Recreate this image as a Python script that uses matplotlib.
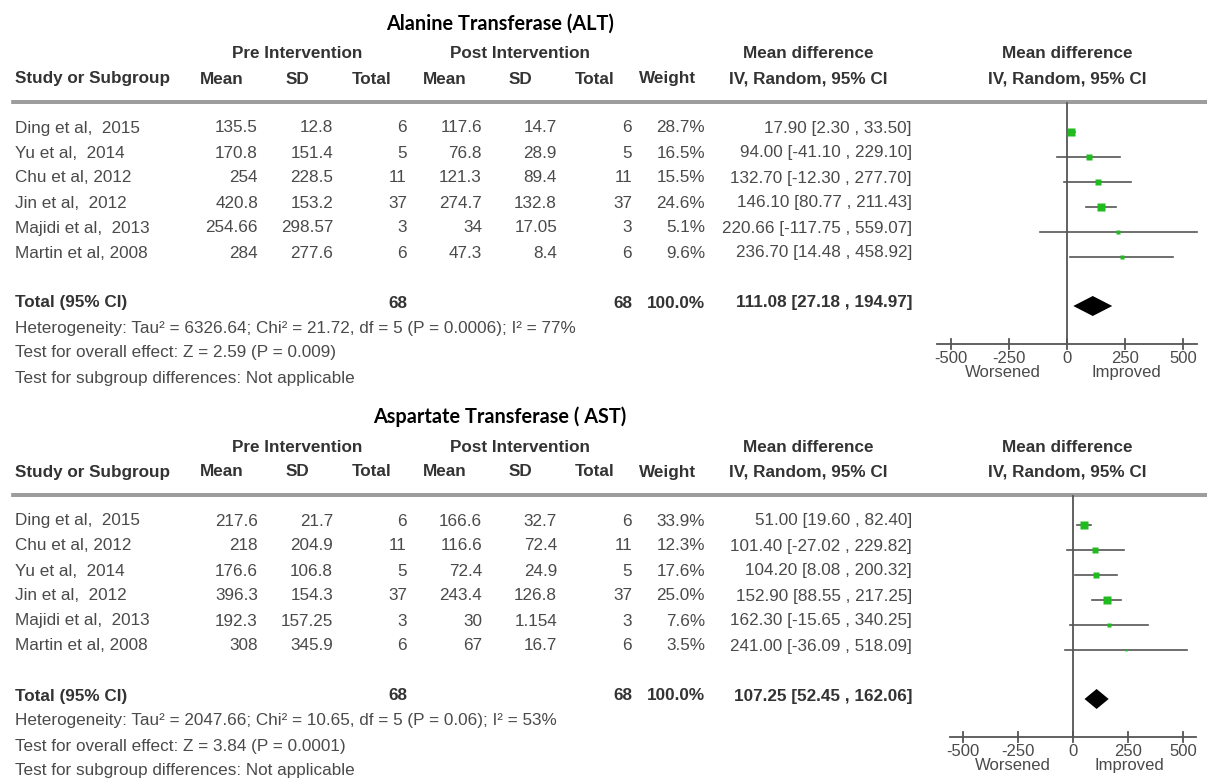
import numpy as np
import matplotlib
matplotlib.use("Agg")
import matplotlib.pyplot as plt

# ALT studies
alt_studies = ["Ding et al,  2015", "Yu et al,  2014", "Chu et al, 2012",
               "Jin et al,  2012", "Majidi et al,  2013", "Martin et al, 2008"]
alt_pre_mean = [135.5, 170.8, 254, 420.8, 254.66, 284]
alt_pre_sd = [12.8, 151.4, 228.5, 153.2, 298.57, 277.6]
alt_pre_n = [6, 5, 11, 37, 3, 6]
alt_post_mean = [117.6, 76.8, 121.3, 274.7, 34, 47.3]
alt_post_sd = [14.7, 28.9, 89.4, 132.8, 17.05, 8.4]
alt_post_n = [6, 5, 11, 37, 3, 6]
alt_weight = [28.7, 16.5, 15.5, 24.6, 5.1, 9.6]
alt_md = [17.90, 94.00, 132.70, 146.10, 220.66, 236.70]
alt_lo = [2.30, -41.10, -12.30, 80.77, -117.75, 14.48]
alt_hi = [33.50, 229.10, 277.70, 211.43, 559.07, 458.92]
alt_total = [111.08, 27.18, 194.97]
alt_notes = ["Heterogeneity: Tau\u00b2 = 6326.64; Chi\u00b2 = 21.72, df = 5 (P = 0.0006); I\u00b2 = 77%",
             "Test for overall effect: Z = 2.59 (P = 0.009)",
             "Test for subgroup differences: Not applicable"]

# AST studies
ast_studies = ["Ding et al,  2015", "Chu et al, 2012", "Yu et al,  2014",
               "Jin et al,  2012", "Majidi et al,  2013", "Martin et al, 2008"]
ast_pre_mean = [217.6, 218, 176.6, 396.3, 192.3, 308]
ast_pre_sd = [21.7, 204.9, 106.8, 154.3, 157.25, 345.9]
ast_pre_n = [6, 11, 5, 37, 3, 6]
ast_post_mean = [166.6, 116.6, 72.4, 243.4, 30, 67]
ast_post_sd = [32.7, 72.4, 24.9, 126.8, 1.154, 16.7]
ast_post_n = [6, 11, 5, 37, 3, 6]
ast_weight = [33.9, 12.3, 17.6, 25.0, 7.6, 3.5]
ast_md = [51.00, 101.40, 104.20, 152.90, 162.30, 241.00]
ast_lo = [19.60, -27.02, 8.08, 88.55, -15.65, -36.09]
ast_hi = [82.40, 229.82, 200.32, 217.25, 340.25, 518.09]
ast_total = [107.25, 52.45, 162.06]
ast_notes = ["Heterogeneity: Tau\u00b2 = 2047.66; Chi\u00b2 = 10.65, df = 5 (P = 0.06); I\u00b2 = 53%",
             "Test for overall effect: Z = 3.84 (P = 0.0001)",
             "Test for subgroup differences: Not applicable"]

total_weight = 100.0
axis_ticks = [-500, -250, 0, 250, 500]

W, H = 1207, 783
FONT = "Liberation Sans"
FS = 12.3
TXT = "#4a4a4a"
HDR = "#333333"
GREEN = "#1fbb1f"
LINE = "#555555"


def draw_panel(ax, fax, base, title, studies, pre_mean, pre_sd, pre_n,
               post_mean, post_sd, post_n, weight, md, lo, hi, total, notes):
    # table header
    ax.text(500, base - 104, title, ha="center", va="center", fontsize=14.3,
            fontweight="bold", family="Lato", color="black")
    kw = dict(va="center", fontsize=FS, family=FONT, fontweight="bold", color=HDR)
    ax.text(297, base - 74, "Pre Intervention", ha="center", **kw)
    ax.text(520, base - 74, "Post Intervention", ha="center", **kw)
    ax.text(808, base - 74, "Mean difference", ha="center", **kw)
    ax.text(1067, base - 74, "Mean difference", ha="center", **kw)
    ax.text(15, base - 49, "Study or Subgroup", ha="left", **kw)
    for x, s in zip([222, 297, 372, 445, 520, 595, 668, 808, 1067],
                    ["Mean", "SD", "Total", "Mean", "SD", "Total", "Weight",
                     "IV, Random, 95% CI", "IV, Random, 95% CI"]):
        ax.text(x, base - 49, s, ha="center", **kw)
    ax.plot([12, W], [base - 27, base - 27], color="#8a8a8a", lw=1.2)
    ax.plot([12, W], [base - 25, base - 25], color="#8a8a8a", lw=1.2)

    # study rows
    rk = dict(va="center", fontsize=FS, family=FONT, color=TXT)
    cols = [258, 333, 407, 482, 557, 632]
    for i, name in enumerate(studies):
        y = base + 25 * i
        ax.text(15, y, name, ha="left", **rk)
        vals = [pre_mean[i], pre_sd[i], pre_n[i], post_mean[i], post_sd[i], post_n[i]]
        for x, v in zip(cols, vals):
            ax.text(x, y, f"{v:g}", ha="right", **rk)
        ax.text(705, y, f"{weight[i]:.1f}%", ha="right", **rk)
        ax.text(912, y, f"{md[i]:.2f} [{lo[i]:.2f} , {hi[i]:.2f}]", ha="right", **rk)

    # totals and footnotes
    yt = base + 175
    bk = dict(va="center", fontsize=FS, family=FONT, fontweight="bold", color=HDR)
    ax.text(15, yt, "Total (95% CI)", ha="left", **bk)
    ax.text(407, yt, f"{sum(pre_n)}", ha="right", **bk)
    ax.text(632, yt, f"{sum(post_n)}", ha="right", **bk)
    ax.text(705, yt, f"{total_weight:.1f}%", ha="right", **bk)
    ax.text(912, yt, f"{total[0]:.2f} [{total[1]:.2f} , {total[2]:.2f}]", ha="right", **bk)
    for j, note in enumerate(notes):
        ax.text(15, yt + 25 * (j + 1), note, ha="left", **rk)

    # forest plot
    line_y = base - 25
    axis_y = base + 216
    fax.plot([0, 0], [line_y, axis_y], color=LINE, lw=1.3)
    for i in range(len(md)):
        y = base + 25 * i + 4
        fax.plot([lo[i], hi[i]], [y, y], color=LINE, lw=1.2)
        fax.plot(md[i], y, marker="s", ms=1.1 * np.sqrt(weight[i]),
                 color=GREEN, mec="none")
    est, tlo, thi = total
    dy = base + 178
    fax.fill([tlo, est, thi, est], [dy, dy - 10, dy, dy + 10], color="black", lw=0)
    fax.plot([-560, 560], [axis_y, axis_y], color=LINE, lw=1.3)
    for t in axis_ticks:
        fax.plot([t, t], [axis_y - 5, axis_y + 5], color=LINE, lw=1.3)
        fax.text(t, axis_y + 15, f"{t}", ha="center", va="center",
                 fontsize=12, family=FONT, color=TXT)
    fax.text(-275, axis_y + 29, "Worsened", ha="center", va="center",
             fontsize=12, family=FONT, color=TXT)
    fax.text(255, axis_y + 29, "Improved", ha="center", va="center",
             fontsize=12, family=FONT, color=TXT)


def forest_axes(fig, y0, y1, zero_px, px_per_unit):
    fax = fig.add_axes([920 / W, 1 - y1 / H, (W - 920) / W, (y1 - y0) / H])
    fax.set_xlim((920 - zero_px) / px_per_unit, (W - zero_px) / px_per_unit)
    fax.set_ylim(y1, y0)
    fax.axis("off")
    return fax


def main():
    fig = plt.figure(figsize=(W / 100, H / 100), dpi=100)
    ax = fig.add_axes([0, 0, 1, 1])
    ax.set_xlim(0, W)
    ax.set_ylim(H, 0)
    ax.axis("off")

    top_fax = forest_axes(fig, 0, 392, 1067, 0.232)
    draw_panel(ax, top_fax, 128, "Alanine Transferase (ALT)", alt_studies,
               alt_pre_mean, alt_pre_sd, alt_pre_n, alt_post_mean, alt_post_sd,
               alt_post_n, alt_weight, alt_md, alt_lo, alt_hi, alt_total, alt_notes)

    bot_fax = forest_axes(fig, 392, H, 1073, 0.22)
    draw_panel(ax, bot_fax, 521, "Aspartate Transferase ( AST)", ast_studies,
               ast_pre_mean, ast_pre_sd, ast_pre_n, ast_post_mean, ast_post_sd,
               ast_post_n, ast_weight, ast_md, ast_lo, ast_hi, ast_total, ast_notes)

    fig.savefig("out.png", dpi=100)


if __name__ == "__main__":
    main()
